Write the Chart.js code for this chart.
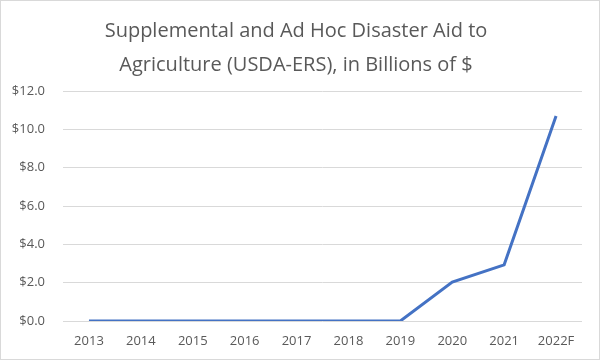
<!DOCTYPE html>
<html>
<head>
<meta charset="utf-8">
<script src="https://cdn.jsdelivr.net/npm/chart.js@4"></script>
<style>
  html, body { margin: 0; padding: 0; background: #fff; }
  #wrap { position: relative; width: 598px; height: 358px; border: 1px solid #d9d9d9; }
</style>
</head>
<body>
<div id="wrap"><canvas id="aid-chart" width="598" height="358"></canvas></div>
<script>
// years on the x axis
let years = ['2013', '2014', '2015', '2016', '2017', '2018', '2019', '2020', '2021', '2022F'];

// aid in billions of dollars
let aidBillions = [0, 0, 0, 0, 0, 0, 0, 2.03, 2.93, 10.7];

let titleLines = ['Supplemental and Ad Hoc Disaster Aid to', 'Agriculture (USDA-ERS), in Billions of $'];

let textGray = '#595959';
let fontName = '"Open Sans", "Noto Sans", sans-serif';

let ctx = document.getElementById('aid-chart').getContext('2d');

new Chart(ctx, {
  type: 'line',
  data: {
    labels: years,
    datasets: [
      {
        label: 'Disaster aid',
        data: aidBillions,
        borderColor: '#4472C4',
        backgroundColor: '#4472C4',
        borderWidth: 3,
        pointRadius: 0,
        tension: 0,
      },
    ],
  },
  options: {
    responsive: false,
    animation: false,
    layout: {
      padding: { left: 9, right: 17, bottom: 0, top: 0 },
    },
    plugins: {
      legend: { display: false },
      tooltip: { enabled: false },
      title: {
        display: true,
        text: titleLines,
        color: textGray,
        font: { family: fontName, size: 20, weight: 'normal', lineHeight: 1.7 },
        padding: { top: 13, bottom: 9 },
      },
    },
    scales: {
      x: {
        offset: true,
        grid: { display: false, drawTicks: false },
        border: { display: false },
        ticks: {
          color: textGray,
          font: { family: fontName, size: 13 },
          padding: 12,
          maxRotation: 0,
        },
        afterFit: (scale) => { scale.height = 38; },
      },
      y: {
        min: 0,
        max: 12,
        grid: { color: '#d9d9d9', lineWidth: 1, drawTicks: false },
        border: { display: false },
        ticks: {
          stepSize: 2,
          color: textGray,
          font: { family: fontName, size: 13 },
          padding: 18,
          callback: (v) => '$' + Number(v).toFixed(1),
        },
        afterFit: (scale) => { scale.width = 53; },
      },
    },
  },
});
</script>
</body>
</html>
